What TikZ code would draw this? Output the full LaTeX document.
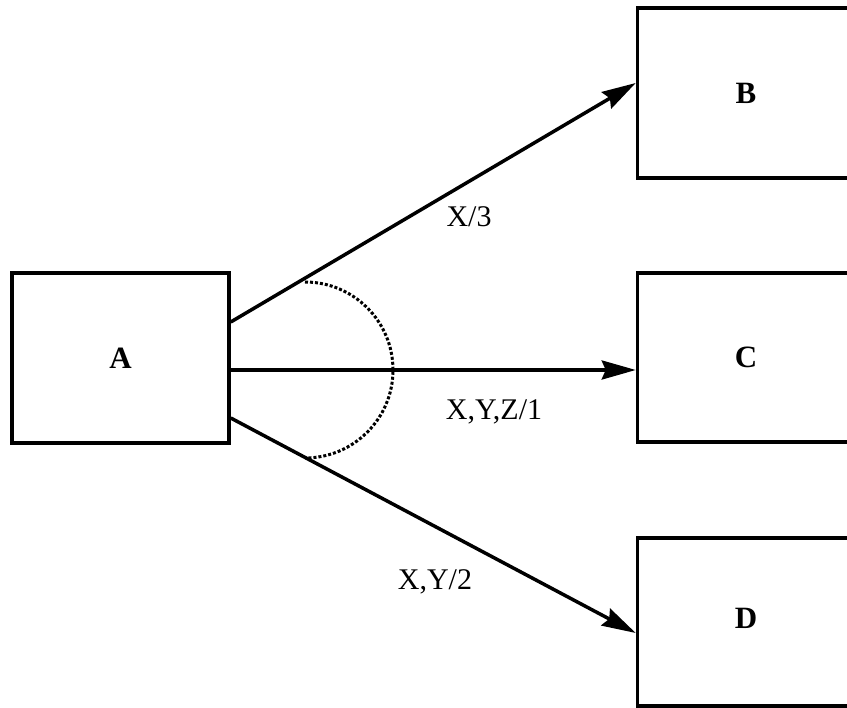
\documentclass[tikz,border=0pt]{standalone}
\usepackage{fontspec}
\setmainfont{Liberation Serif}
\usetikzlibrary{arrows.meta}
\begin{document}
\begin{tikzpicture}[x=1pt,y=-1pt,
  box/.style={draw=black,line width=3.5pt,minimum width=217pt,inner sep=0pt,font=\fontsize{31}{31}\selectfont\bfseries},
  conn/.style={line width=3.5pt,-{Stealth[length=34pt,width=19pt,inset=4pt]}},
  lbl/.style={font=\fontsize{30}{30}\selectfont,inner sep=0pt,anchor=base},
  arcline/.style={line width=3pt,dash pattern=on 3pt off 2pt}]
\useasboundingbox (0,0) rectangle (847,708);
\clip (0,0) rectangle (847,708);
\fill[white] (0,0) rectangle (847,708);
\node[box,minimum height=170pt] (A) at (120.5,358) {A};
\node[box,minimum height=170pt] (B) at (746,93) {B};
\node[box,minimum height=169pt] (C) at (746,357.5) {C};
\node[box,minimum height=168pt,text depth=8pt] (D) at (746,622) {D};
\draw[conn] ([yshift=36pt]A.east) -- ([yshift=10pt]B.west);
\draw[conn] ([yshift=-12pt]A.east) -- ([yshift=-12.5pt]C.west);
\draw[conn] ([yshift=-60pt]A.east) -- ([yshift=-11pt]D.west);
\coordinate (arctop) at (305,282);
\draw[arcline] (arctop) arc[start angle=-90,end angle=90,radius=88];
\node[lbl] (l3) at (469,227) {X/3};
\node[lbl] (l1) at (494,420) {X,Y,Z/1};
\node[lbl] (l2) at (435,590) {X,Y/2};
\end{tikzpicture}
\end{document}
